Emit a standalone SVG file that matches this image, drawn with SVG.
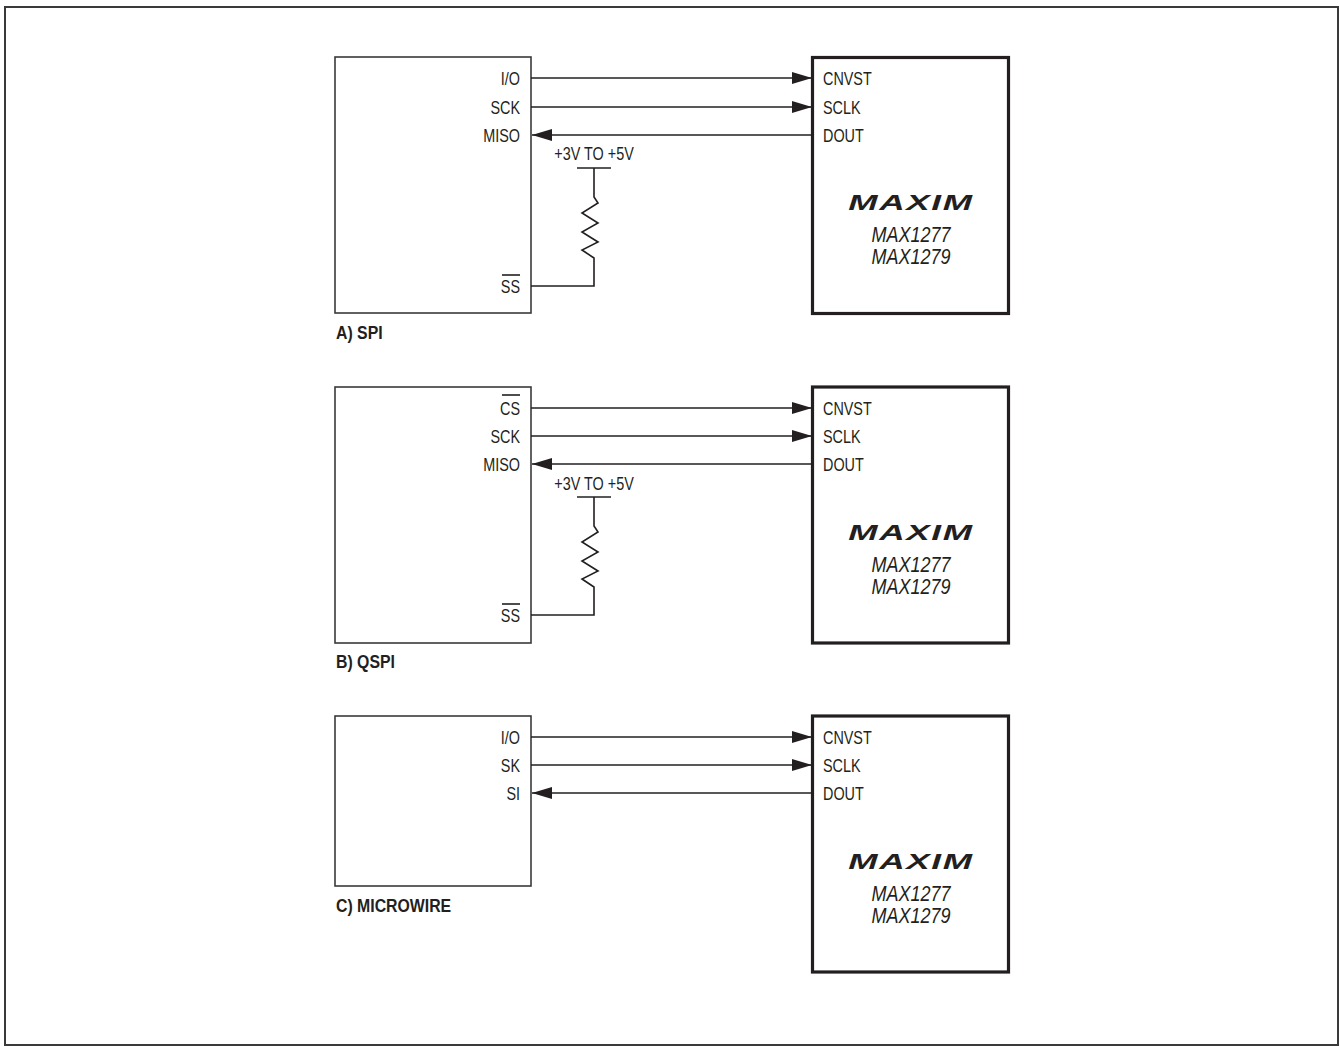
<svg xmlns="http://www.w3.org/2000/svg" width="1340" height="1046" viewBox="0 0 1340 1046">
<defs>
<marker id="ah" markerUnits="userSpaceOnUse" markerWidth="20" markerHeight="12" refX="20" refY="6" orient="auto">
<path d="M0,0 L20,6 L0,12 Z" fill="#231f20"/>
</marker>
<style>
.frame{fill:#fff;stroke:#3a3a3a;stroke-width:2}
.mcu{fill:#fff;stroke:#3a3a3a;stroke-width:1.6}
.adc{fill:#fff;stroke:#231f20;stroke-width:3.2}
.w{fill:none;stroke:#231f20;stroke-width:1.6}
.sig{fill:none;stroke:#231f20;stroke-width:1.6;marker-end:url(#ah)}
text{font-family:"Liberation Sans",Arial,sans-serif;fill:#231f20}
.pin{font-size:18px}
.pl{font-size:18px;text-anchor:end}
.cap{font-size:18px;font-weight:bold}
.part{font-size:22px;font-style:italic;text-anchor:middle}
.logo{font-size:22px;font-weight:900;font-style:italic;text-anchor:middle;letter-spacing:1px}
.vs{font-size:18px;text-anchor:middle}
</style>
</defs>
<rect class="frame" x="5" y="7" width="1333" height="1038"/>

<!-- Section A -->
<g id="mcu-a">
<rect class="mcu" x="335" y="57" width="196" height="256"/>
<text class="pl" transform="translate(520,85) scale(0.8,1)">I/O</text>
<text class="pl" transform="translate(520,114) scale(0.8,1)">SCK</text>
<text class="pl" transform="translate(520,142) scale(0.8,1)">MISO</text>
<text class="pl" transform="translate(520,293) scale(0.8,1)">SS</text>
<line class="w" x1="502" y1="275" x2="520" y2="275"/>
</g>
<g id="adc-a">
<rect class="adc" x="812.5" y="57.5" width="196" height="256"/>
<text class="pin" transform="translate(823,85) scale(0.8,1)">CNVST</text>
<text class="pin" transform="translate(823,114) scale(0.8,1)">SCLK</text>
<text class="pin" transform="translate(823,142) scale(0.8,1)">DOUT</text>
<text class="logo" transform="translate(911,210) scale(1.6,1)">MAXIM</text>
<text class="part" transform="translate(911,242) scale(0.82,1)">MAX1277</text>
<text class="part" transform="translate(911,264) scale(0.82,1)">MAX1279</text>
</g>
<g id="pullup-a">
<text class="vs" transform="translate(594,160) scale(0.8,1)">+3V TO +5V</text>
<line class="w" x1="577" y1="168" x2="611" y2="168"/>
<polyline class="w" points="594,168 594,197 598,203 582,213 598,223 582,232 598,242 582,250 594,258 594,286 531,286"/>
</g>
<text class="cap" transform="translate(336,339) scale(0.88,1)">A) SPI</text>

<!-- Section B -->
<g id="mcu-b">
<rect class="mcu" x="335" y="387" width="196" height="256"/>
<text class="pl" transform="translate(520,415) scale(0.8,1)">CS</text>
<line class="w" x1="502" y1="395" x2="520" y2="395"/>
<text class="pl" transform="translate(520,443) scale(0.8,1)">SCK</text>
<text class="pl" transform="translate(520,471) scale(0.8,1)">MISO</text>
<text class="pl" transform="translate(520,622) scale(0.8,1)">SS</text>
<line class="w" x1="502" y1="604" x2="520" y2="604"/>
</g>
<g id="adc-b">
<rect class="adc" x="812.5" y="387" width="196" height="256"/>
<text class="pin" transform="translate(823,415) scale(0.8,1)">CNVST</text>
<text class="pin" transform="translate(823,443) scale(0.8,1)">SCLK</text>
<text class="pin" transform="translate(823,471) scale(0.8,1)">DOUT</text>
<text class="logo" transform="translate(911,540) scale(1.6,1)">MAXIM</text>
<text class="part" transform="translate(911,572) scale(0.82,1)">MAX1277</text>
<text class="part" transform="translate(911,594) scale(0.82,1)">MAX1279</text>
</g>
<g id="pullup-b">
<text class="vs" transform="translate(594,490) scale(0.8,1)">+3V TO +5V</text>
<line class="w" x1="577" y1="497" x2="611" y2="497"/>
<polyline class="w" points="594,497 594,526 598,532 582,542 598,552 582,561 598,571 582,579 594,587 594,615 531,615"/>
</g>
<text class="cap" transform="translate(336,668) scale(0.88,1)">B) QSPI</text>

<!-- Section C -->
<g id="mcu-c">
<rect class="mcu" x="335" y="716" width="196" height="170"/>
<text class="pl" transform="translate(520,744) scale(0.8,1)">I/O</text>
<text class="pl" transform="translate(520,772) scale(0.8,1)">SK</text>
<text class="pl" transform="translate(520,800) scale(0.8,1)">SI</text>
</g>
<g id="adc-c">
<rect class="adc" x="812.5" y="716" width="196" height="256"/>
<text class="pin" transform="translate(823,744) scale(0.8,1)">CNVST</text>
<text class="pin" transform="translate(823,772) scale(0.8,1)">SCLK</text>
<text class="pin" transform="translate(823,800) scale(0.8,1)">DOUT</text>
<text class="logo" transform="translate(911,869) scale(1.6,1)">MAXIM</text>
<text class="part" transform="translate(911,901) scale(0.82,1)">MAX1277</text>
<text class="part" transform="translate(911,923) scale(0.82,1)">MAX1279</text>
</g>
<text class="cap" transform="translate(336,912) scale(0.88,1)">C) MICROWIRE</text>

<g id="connectors">
<line class="sig" x1="531" y1="78" x2="812" y2="78"/>
<line class="sig" x1="531" y1="107" x2="812" y2="107"/>
<line class="sig" x1="812" y1="135" x2="532" y2="135"/>
<line class="sig" x1="531" y1="408" x2="812" y2="408"/>
<line class="sig" x1="531" y1="436" x2="812" y2="436"/>
<line class="sig" x1="812" y1="464" x2="532" y2="464"/>
<line class="sig" x1="531" y1="737" x2="812" y2="737"/>
<line class="sig" x1="531" y1="765" x2="812" y2="765"/>
<line class="sig" x1="812" y1="793" x2="532" y2="793"/>
</g>
</svg>
